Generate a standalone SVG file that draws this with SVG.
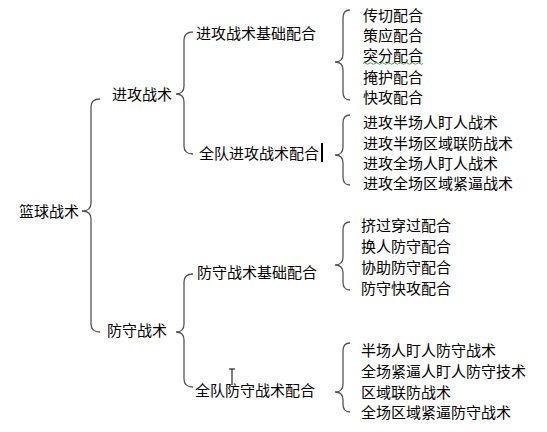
<svg xmlns="http://www.w3.org/2000/svg" width="547" height="432" viewBox="0 0 547 432">
<style>
text{font-family:"Noto Sans CJK SC","Noto Sans CJK TC",sans-serif;font-size:15px;fill:#000}
.br{fill:none;stroke:#555;stroke-width:1.3}
</style>
<rect width="547" height="432" fill="#fff"/>
<g id="connectors">
<path class="br" d="M100,99 Q91,99 91,107 L91,203 Q91,211 82,211 Q91,211 91,219 L91,324 Q91,332 100,332"/>
<path class="br" d="M193,32 Q184,32 184,40 L184,86 Q184,94 176,94 Q184,94 184,102 L184,146 Q184,154 193,154"/>
<path class="br" d="M193,274 Q184,274 184,282 L184,324 Q184,332 176,332 Q184,332 184,340 L184,379 Q184,387 193,387"/>
<path class="br" d="M350,10 Q343,10 343,18 L343,54 Q343,62 335,62 Q343,62 343,70 L343,92 Q343,100 350,100"/>
<path class="br" d="M350,115 Q343,115 343,123 L343,147 Q343,155 335,155 Q343,155 343,163 L343,177 Q343,185 350,185"/>
<path class="br" d="M350,222 Q343,222 343,230 L343,257 Q343,265 335,265 Q343,265 343,273 L343,282 Q343,290 350,290"/>
<path class="br" d="M350,343 Q343,343 343,351 L343,384 Q343,392 335,392 Q343,392 343,400 L343,404 Q343,412 350,412"/>
</g>
<g id="root"><text x="19" y="217">篮球战术</text></g>
<g id="attack"><text x="112" y="100">进攻战术</text></g>
<g id="defense"><text x="107" y="336">防守战术</text></g>
<g id="attack-basic"><text x="196" y="39">进攻战术基础配合</text></g>
<g id="attack-team"><text x="199" y="159">全队进攻战术配合</text></g>
<g id="defense-basic"><text x="197" y="278">防守战术基础配合</text></g>
<g id="defense-team"><text x="195" y="396">全队防守战术配合</text></g>
<g id="attack-basic-items">
<text x="363" y="21">传切配合</text>
<text x="363" y="41">策应配合</text>
<text x="363" y="61">突分配合</text>
<text x="363" y="83">掩护配合</text>
<text x="363" y="103">快攻配合</text>
</g>
<g id="attack-team-items">
<text x="363" y="128">进攻半场人盯人战术</text>
<text x="363" y="149">进攻半场区域联防战术</text>
<text x="363" y="169">进攻全场人盯人战术</text>
<text x="363" y="189">进攻全场区域紧逼战术</text>
</g>
<g id="defense-basic-items">
<text x="361" y="231">挤过穿过配合</text>
<text x="361" y="252">换人防守配合</text>
<text x="361" y="273">协助防守配合</text>
<text x="361" y="294">防守快攻配合</text>
</g>
<g id="defense-team-items">
<text x="361" y="356">半场人盯人防守战术</text>
<text x="361" y="377">全场紧逼人盯人防守技术</text>
<text x="361" y="398">区域联防战术</text>
<text x="361" y="418">全场区域紧逼防守战术</text>
</g>
<g id="marks">
<path d="M363,63.5 q1.5,-1.5 3,0 t3,0 t3,0 t3,0 t3,0 t3,0 t3,0 t3,0 t3,0 t3,0 t3,0 t3,0 t3,0 t3,0 t3,0 t3,0 t3,0 t3,0 t3,0 t3,0" fill="none" stroke="#3a3" stroke-width="1"/>
<rect x="321" y="143" width="2" height="19" fill="#000"/>
<path d="M229,369 H235 M232,369 V385" stroke="#000" stroke-width="1" fill="none"/>
</g>
</svg>
